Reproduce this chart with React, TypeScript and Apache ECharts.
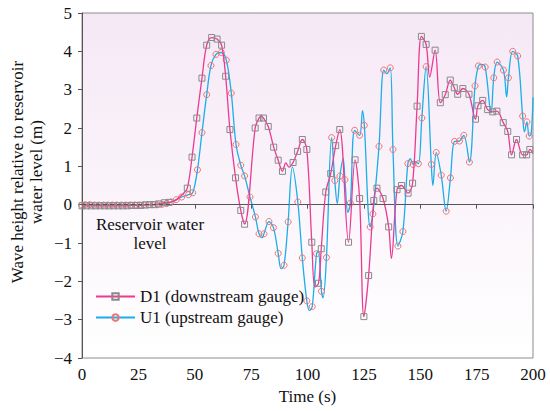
import React, { useEffect, useRef } from "react";
import * as echarts from "echarts";

// D1 (downstream gauge)
const d1Time = [0, 2, 4, 6, 8, 10, 12, 14, 16, 18, 20, 22, 24, 26, 28, 30, 32, 34, 36.5, 38.6, 41, 43, 44.8, 46.7, 48.8, 50.9, 53.2, 55.3, 57.5, 59.9, 61.9, 63.7, 65.6, 68.1, 70.4, 72.1, 76.8, 78.5, 79.5, 80.5, 82.6, 85, 87, 88.9, 90.4, 91.8, 93.6, 95.6, 97.7, 99.7, 101.9, 103.3, 104.9, 106.1, 108.1, 110.3, 112.5, 114.3, 118.2, 121.1, 123.1, 125, 127.1, 129.4, 130.8, 133.5, 136, 137.2, 139.7, 141.7, 144.6, 146.6, 148.6, 150.5, 152.6, 154.2, 156.6, 158.9, 161.1, 163.3, 165.1, 166.6, 168.9, 171.6, 174.5, 175.6, 177.7, 179.9, 182.1, 184, 186.8, 188.8, 190.5, 192.7, 195.4, 197.2, 198.6, 200];
const d1Value = [-0.03, -0.03, -0.03, -0.03, -0.03, -0.03, -0.03, -0.03, -0.03, -0.03, -0.03, -0.02, -0.02, -0.02, -0.01, 0, 0, 0.02, 0.05, 0.06, 0.1, 0.18, 0.28, 0.43, 1.24, 2.26, 3.3, 4.16, 4.36, 4.32, 4.16, 3.35, 1.96, 0.7, -0.15, -0.51, 2.0, 2.26, 2.3, 2.26, 2.04, 1.5, 1.16, 0.87, 1.09, 0.98, 1.1, 1.39, 1.7, 1.44, -0.98, -2.15, -2.05, -1.15, 0.33, 0.81, 1.54, 1.96, -0.98, 1.17, 0.16, -2.92, -1.85, 0.11, 0.43, 0.16, -0.58, -1.4, 0.39, 0.5, 0.3, 0.56, 2.57, 4.39, 4.18, 3.33, 4.03, 2.66, 2.87, 3.25, 3.05, 2.88, 3.03, 2.88, 2.23, 2.58, 2.72, 2.48, 2.42, 2.44, 2.14, 1.91, 1.3, 1.7, 1.3, 1.3, 1.44, 1.33];
const d1Marked = [1, 1, 1, 1, 1, 1, 1, 1, 1, 1, 1, 1, 1, 1, 1, 1, 1, 1, 1, 1, 0, 0, 0, 1, 1, 1, 1, 1, 1, 1, 1, 1, 1, 1, 1, 1, 1, 1, 0, 1, 1, 1, 1, 1, 0, 0, 1, 1, 1, 1, 1, 0, 1, 1, 1, 1, 1, 1, 1, 1, 1, 1, 1, 1, 1, 1, 1, 0, 1, 1, 1, 1, 1, 1, 1, 0, 1, 1, 1, 1, 1, 1, 1, 1, 1, 1, 1, 1, 1, 1, 1, 1, 1, 1, 1, 1, 1, 0];

// U1 (upstream gauge)
const u1Time = [0, 1.5, 3.5, 5.5, 7.5, 9.5, 11.5, 13.5, 15.5, 17.5, 19.5, 21.5, 23.5, 25.5, 27.5, 29.5, 31.5, 33.5, 35.5, 37.5, 39.5, 41.8, 44.2, 47.2, 49.1, 51.2, 53.2, 55.3, 57.2, 59.4, 61.8, 64, 66.2, 68.3, 70.4, 72.1, 74.5, 76.9, 78.5, 79.9, 80.7, 82.9, 84.9, 87, 88.3, 89.6, 91.4, 93.3, 95.7, 97.7, 99.7, 100.9, 102.1, 104, 104.8, 106.2, 106.9, 108.4, 110.7, 112.1, 113.2, 114.4, 115.8, 116.6, 117.9, 119, 120.9, 123.1, 124.4, 125.2, 127.8, 129, 131.7, 133.8, 135.2, 136.7, 137.9, 140.1, 142.3, 144.5, 145.6, 146.8, 147.8, 149.2, 150.7, 152.6, 154.9, 155.6, 157.1, 159.3, 161.5, 163.4, 165.2, 167.4, 169.3, 171.8, 174.3, 175.8, 177.1, 178.8, 181.4, 182.6, 184.1, 186.9, 188.3, 189.1, 191, 193.2, 195.4, 196.2, 197.3, 198.3, 199.2, 200];
const u1Value = [-0.01, 0, 0, -0.01, -0.01, -0.01, -0.01, -0.01, -0.01, -0.01, -0.01, -0.01, -0.01, -0.01, 0, 0, 0, 0, 0.01, 0.03, 0.07, 0.13, 0.2, 0.26, 0.31, 0.91, 1.88, 2.87, 3.63, 3.92, 3.97, 3.77, 2.91, 1.57, 1.03, 0.75, 0.2, -0.32, -0.76, -0.86, -0.76, -0.44, -0.6, -1.27, -1.67, -1.58, -0.45, 0.98, 0.07, -1.39, -2.51, -2.76, -2.66, -1.28, -1.22, -2.26, -2.43, -1.38, 1.75, 0.63, 0.03, 0.75, 1.2, 0.65, -0.2, 0.04, 1.94, 1.81, 2.45, 2.07, -0.58, -0.24, 1.52, 3.51, 3.42, 3.57, 1.44, -1.08, -0.7, 1.07, 1.2, 1.05, 1.12, 1.07, 2.26, 3.6, 1.05, 0.5, 1.36, 0.77, -0.17, 0.7, 1.65, 1.66, 1.81, 1.11, 3.1, 3.62, 3.66, 3.59, 2.39, 3.31, 3.72, 3.51, 2.81, 3.31, 4.0, 3.88, 2.31, 1.9, 2.16, 1.79, 1.85, 2.8];
const u1Marked = [1, 1, 1, 1, 1, 1, 1, 1, 1, 1, 1, 1, 1, 1, 1, 1, 1, 1, 1, 1, 1, 1, 1, 1, 1, 1, 1, 1, 1, 1, 1, 1, 1, 1, 1, 1, 1, 1, 1, 0, 1, 1, 1, 1, 0, 1, 1, 0, 1, 1, 1, 0, 1, 1, 0, 1, 0, 1, 1, 1, 0, 1, 0, 1, 0, 1, 1, 1, 0, 1, 1, 1, 1, 1, 0, 1, 1, 1, 1, 1, 0, 1, 0, 1, 1, 1, 1, 0, 1, 1, 1, 1, 1, 1, 1, 1, 1, 1, 0, 1, 0, 1, 1, 1, 0, 1, 1, 1, 1, 0, 1, 1, 0, 0];

const seriesNames = ["D1 (downstream gauge)", "U1 (upstream gauge)"];
const xTickValues = [0, 25, 50, 75, 100, 125, 150, 175, 200];
const yTickValues = [-4, -3, -2, -1, 0, 1, 2, 3, 4, 5];
const annotationLines = ["Reservoir water", "level"];
const yTitleLines = ["Wave height relative to reservoir", "water level (m)"];

const FONT = "'Liberation Serif', 'Times New Roman', serif";
const MAGENTA = "#EC3A92";
const CYAN = "#1BAEE8";
const FS = 17;

function buildData(ts: number[], vs: number[], marks: number[], symbol: string) {
  return ts.map((t, i) => ({
    value: [t, vs[i]],
    symbol: marks[i] ? symbol : "none",
  }));
}

export default function App() {
  const ref = useRef<HTMLDivElement>(null);
  useEffect(() => {
    document.body.style.margin = "0";
    if (!ref.current) return;
    const chart = echarts.init(ref.current, undefined, { renderer: "svg" });
    const option: any = {
      animation: false,
      textStyle: { fontFamily: FONT },
      grid: {
        left: 82,
        right: 17,
        top: 13,
        bottom: 53,
        show: true,
        borderColor: "#8c8c8c",
        borderWidth: 1,
        backgroundColor: new echarts.graphic.LinearGradient(0, 0, 0, 1, [
          { offset: 0, color: "#F5E8F5" },
          { offset: 1, color: "#FFFFFF" },
        ]),
      },
      legend: {
        orient: "vertical",
        left: 95,
        top: 288,
        padding: 0,
        itemWidth: 39,
        itemHeight: 8,
        itemGap: 4,
        data: seriesNames,
        textStyle: { fontFamily: FONT, fontSize: FS, color: "#111", lineHeight: 17 },
      },
      xAxis: {
        type: "value",
        min: xTickValues[0],
        max: xTickValues[xTickValues.length - 1],
        interval: 25,
        name: "Time (s)",
        nameLocation: "middle",
        nameGap: 25,
        nameTextStyle: { fontFamily: FONT, fontSize: FS, color: "#111" },
        axisLine: { show: true, lineStyle: { color: "#555", width: 1 } },
        axisTick: { show: true, length: 4, lineStyle: { color: "#555" } },
        axisLabel: { fontFamily: FONT, fontSize: FS, color: "#111", margin: 8 },
        splitLine: { show: false },
      },
      yAxis: {
        type: "value",
        min: yTickValues[0],
        max: yTickValues[yTickValues.length - 1],
        interval: 1,
        axisLine: { show: true, lineStyle: { color: "#555", width: 1 } },
        axisTick: { show: true, length: 4, lineStyle: { color: "#555" } },
        axisLabel: {
          fontFamily: FONT,
          fontSize: FS,
          color: "#111",
          margin: 10,
          formatter: (v: number) => (v < 0 ? "\u2212" + Math.abs(v) : String(v)),
        },
        splitLine: { show: false },
      },
      graphic: [
        ...annotationLines.map((line, i) => ({
          type: "text",
          x: 150,
          y: 224 + i * 19.5,
          silent: true,
          style: {
            text: line,
            fill: "#111",
            font: `${FS}px ${FONT}`,
            textAlign: "center",
            textVerticalAlign: "middle",
          },
        })),
        ...yTitleLines.map((line, i) => ({
          type: "text",
          x: 17 + i * 19.5,
          y: 172,
          rotation: Math.PI / 2,
          silent: true,
          style: {
            text: line,
            fill: "#111",
            font: `${FS}px ${FONT}`,
            textAlign: "center",
            textVerticalAlign: "middle",
          },
        })),
      ],
      series: [
        {
          name: seriesNames[0],
          type: "line",
          smooth: 0.35,
          showAllSymbol: true,
          symbol: "rect",
          symbolSize: 6,
          z: 3,
          lineStyle: { color: MAGENTA, width: 1.3 },
          itemStyle: { color: "rgba(255,255,255,0)", borderColor: "#8a8a8a", borderWidth: 1 },
          data: buildData(d1Time, d1Value, d1Marked, "rect"),
          markLine: {
            silent: true,
            symbol: ["none", "none"],
            label: { show: false },
            lineStyle: { color: "#555", type: [4, 3], width: 1 },
            data: [{ yAxis: 0 }],
          },
        },
        {
          name: seriesNames[1],
          type: "line",
          smooth: 0.35,
          showAllSymbol: true,
          symbol: "circle",
          symbolSize: 6,
          z: 2,
          lineStyle: { color: CYAN, width: 1.3 },
          itemStyle: { color: "rgba(255,255,255,0)", borderColor: "#F07272", borderWidth: 1 },
          data: buildData(u1Time, u1Value, u1Marked, "circle"),
        },
      ],
    };
    chart.setOption(option);
    return () => chart.dispose();
  }, []);
  return <div ref={ref} style={{ width: 550, height: 411 }} />;
}
